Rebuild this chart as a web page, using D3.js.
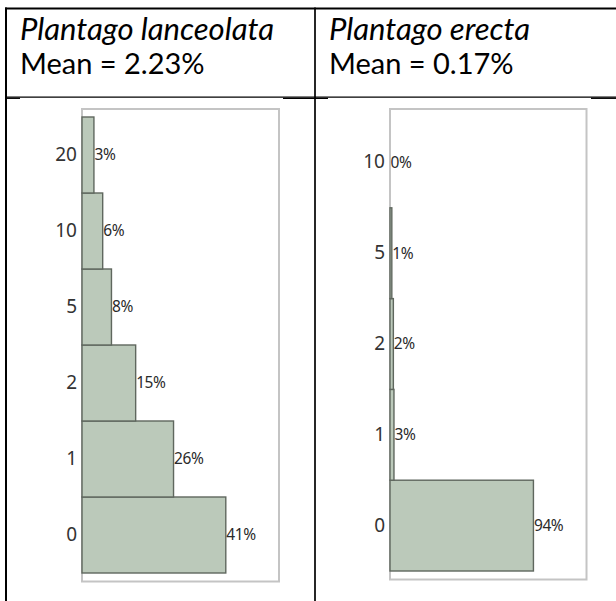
<!DOCTYPE html>
<html>
<head>
<meta charset="utf-8">
<script src="https://cdn.jsdelivr.net/npm/d3@7"></script>
<style>
  body { margin: 0; background: #fff; }
  svg { display: block; }
</style>
</head>
<body>
<svg id="chart" width="616" height="601"></svg>
<script>
// species headers
const species = ['Plantago lanceolata', 'Plantago erecta'];
const means = ['2.23%', '0.17%'];

// left panel: P. lanceolata
const lanceCats = ['0', '1', '2', '5', '10', '20'];
const lanceValues = [41.0, 26.1, 15.3, 8.4, 5.9, 3.4];

// right panel: P. erecta
const erectaCats = ['0', '1', '2', '5', '10'];
const erectaValues = [94.0, 2.6, 2.2, 1.2, 0.0];

const svg = d3.select('#chart');

// table lines
const grid = svg.append('g')
  .attr('stroke', '#000')
  .attr('fill', 'none');

grid.append('line')
  .attr('x1', 5).attr('x2', 616)
  .attr('y1', 8.5).attr('y2', 8.5)
  .attr('stroke-width', 2);
grid.append('line')
  .attr('x1', 6).attr('x2', 6)
  .attr('y1', 7.5).attr('y2', 601)
  .attr('stroke-width', 2);
grid.append('line')
  .attr('x1', 315).attr('x2', 315)
  .attr('y1', 7.5).attr('y2', 601)
  .attr('stroke-width', 1.7);
grid.append('line')
  .attr('x1', 5).attr('x2', 616)
  .attr('y1', 97.2).attr('y2', 97.2)
  .attr('stroke-width', 1.3);
// little offset bits where the cell borders don't quite meet
[[5, 20], [283, 328], [591, 616]].forEach((s) => {
  grid.append('line')
    .attr('x1', s[0]).attr('x2', s[1])
    .attr('y1', 98.3).attr('y2', 98.3)
    .attr('stroke-width', 1.3);
});

// header text
const heads = [20, 329];
heads.forEach((x, i) => {
  svg.append('text')
    .attr('x', x)
    .attr('y', 40)
    .attr('font-family', 'Lato')
    .attr('font-style', 'italic')
    .attr('font-size', 31)
    .attr('fill', '#000')
    .text(species[i]);
  svg.append('text')
    .attr('x', x)
    .attr('y', 74)
    .attr('font-family', 'Lato')
    .attr('font-size', 29)
    .attr('fill', '#000')
    .text(`Mean = ${means[i]}`);
});

function drawPanel(cats, values, frame) {
  const g = svg.append('g');

  const y = d3.scaleBand()
    .domain(cats.slice().reverse())
    .range([frame.y0 + 8, frame.y1 - 8.5])
    .padding(0);

  const x = d3.scaleLinear()
    .domain([0, d3.max(values) * 1.37])
    .range([frame.x0, frame.x1]);

  // plot frame
  g.append('rect')
    .attr('x', frame.x0)
    .attr('y', frame.y0)
    .attr('width', frame.x1 - frame.x0)
    .attr('height', frame.y1 - frame.y0)
    .attr('fill', '#fff')
    .attr('stroke', '#c4c4c4')
    .attr('stroke-width', 2);

  const rows = cats.map((c, i) => ({ cat: c, v: values[i] }));

  g.selectAll('rect.bar')
    .data(rows.filter(d => d.v > 0))
    .enter()
    .append('rect')
    .attr('class', 'bar')
    .attr('x', x(0))
    .attr('y', d => y(d.cat))
    .attr('width', d => x(d.v) - x(0))
    .attr('height', y.bandwidth())
    .attr('fill', '#bbc9ba')
    .attr('stroke', '#5f675e')
    .attr('stroke-width', 1.4);

  g.selectAll('text.pct')
    .data(rows)
    .enter()
    .append('text')
    .attr('class', 'pct')
    .attr('x', d => x(d.v) + 0.5)
    .attr('y', d => y(d.cat) + y.bandwidth() / 2)
    .attr('dy', '0.35em')
    .attr('font-family', 'Noto Sans')
    .attr('font-size', 15.5)
    .attr('letter-spacing', -0.4)
    .attr('fill', '#2a2a2a')
    .text(d => `${Math.round(d.v)}%`);

  const axis = g.append('g')
    .attr('transform', `translate(${frame.x0},0)`)
    .call(d3.axisLeft(y).tickSize(0).tickPadding(5));
  axis.select('.domain').remove();
  axis.selectAll('text')
    .attr('font-family', 'Noto Sans')
    .attr('font-size', 19)
    .attr('fill', '#333');
}

drawPanel(lanceCats, lanceValues, { x0: 82, x1: 279, y0: 109, y1: 581.5 });
drawPanel(erectaCats, erectaValues, { x0: 390, x1: 586.5, y0: 109, y1: 579.5 });
</script>
</body>
</html>
